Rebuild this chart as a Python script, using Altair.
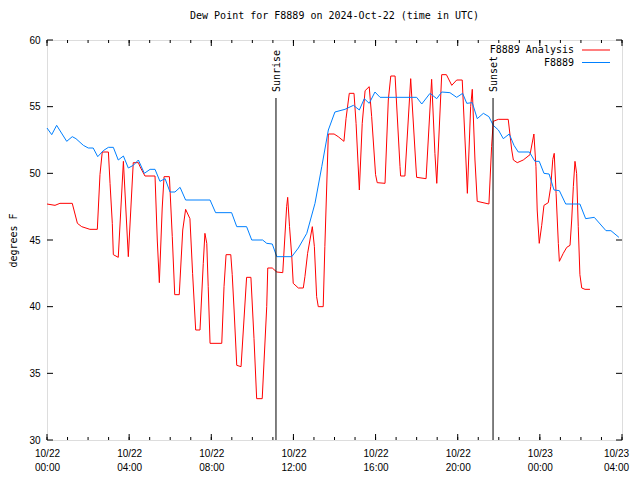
import altair as alt
import pandas as pd

# ---- data (hours since 2024-10-22 00:00 UTC) ----
obs_hours = [0.00, 0.23, 0.47, 0.96, 1.23, 1.41, 1.77, 2.01, 2.25, 2.47,
             2.74, 2.99, 3.23, 3.47, 3.72, 3.96, 4.20, 4.45, 4.74, 5.02,
             5.26, 5.50, 5.75, 5.99, 6.23, 6.48, 6.75, 7.94, 8.21, 8.99,
             9.24, 9.72, 9.97, 10.50, 10.70, 10.97, 11.19, 11.92, 12.24, 12.65,
             13.05, 13.38, 13.70, 14.02, 14.51, 14.92, 15.21, 15.45, 15.69, 15.97,
             16.22, 18.00, 18.25, 18.65, 18.98, 19.22, 19.62, 19.95, 20.24, 20.44,
             20.71, 20.95, 21.25, 21.52, 21.73, 21.98, 22.22, 22.51, 22.74, 22.95,
             23.49, 23.76, 23.97, 24.20, 24.45, 24.69, 24.95, 25.26, 25.95, 26.23,
             26.65, 27.22, 27.46, 27.85]
obs_values = [53.4, 52.9, 53.6, 52.4, 52.75, 52.6, 52.1, 51.9, 51.9, 51.25,
              51.7, 51.95, 51.95, 51.0, 51.3, 50.4, 50.6, 51.0, 50.0, 50.3,
              50.3, 49.4, 49.6, 48.6, 48.6, 48.95, 48.0, 48.0, 47.05, 47.05,
              46.0, 46.0, 45.0, 45.0, 44.75, 44.7, 43.75, 43.75, 44.4, 45.5,
              47.75, 50.5, 53.25, 54.6, 54.8, 55.1, 54.75, 55.6, 55.25, 56.1,
              55.7, 55.7, 55.2, 56.0, 55.6, 56.1, 56.05, 55.7, 56.0, 55.25,
              55.3, 54.1, 54.5, 54.25, 53.6, 53.25, 52.6, 52.95, 52.1, 51.6,
              51.6, 50.9, 50.9, 50.0, 49.95, 48.75, 48.7, 47.7, 47.7, 46.6,
              46.7, 45.7, 45.7, 45.2]

ana_hours = [0.00, 0.39, 0.63, 1.23, 1.48, 1.69, 2.09, 2.45, 2.58, 2.69,
             2.99, 3.07, 3.18, 3.23, 3.47, 3.72, 3.96, 4.20, 4.45, 4.53,
             4.77, 5.26, 5.37, 5.47, 5.61, 5.70, 5.96, 6.10, 6.22, 6.44,
             6.61, 6.75, 6.96, 7.09, 7.24, 7.45, 7.61, 7.69, 7.78, 7.85,
             7.94, 8.51, 8.62, 8.72, 8.95, 9.02, 9.11, 9.24, 9.45, 9.72,
             9.93, 10.08, 10.21, 10.48, 10.70, 10.75, 10.97, 11.19, 11.48, 11.67,
             11.72, 11.81, 11.92, 11.99, 12.24, 12.48, 12.56, 12.69, 12.92, 13.02,
             13.13, 13.21, 13.45, 13.53, 13.70, 13.98, 14.18, 14.46, 14.56, 14.72,
             14.95, 15.05, 15.21, 15.35, 15.49, 15.69, 15.81, 16.00, 16.08, 16.46,
             16.62, 16.74, 16.95, 17.19, 17.22, 17.43, 17.71, 17.97, 18.00, 18.46,
             18.73, 18.89, 18.98, 19.22, 19.45, 19.71, 19.95, 20.22, 20.40, 20.47,
             20.63, 20.71, 20.84, 20.95, 21.52, 21.65, 21.73, 21.98, 22.46, 22.63,
             22.71, 22.90, 23.19, 23.52, 23.71, 23.81, 23.87, 23.97, 24.09, 24.20,
             24.41, 24.53, 24.63, 24.70, 24.79, 24.90, 24.95, 25.14, 25.31, 25.47,
             25.55, 25.63, 25.71, 25.79, 25.87, 25.95, 26.04, 26.20, 26.44]
ana_values = [47.7, 47.6, 47.75, 47.75, 46.25, 46.0, 45.8, 45.8, 49.9, 51.6,
              51.6, 49.25, 46.25, 43.9, 43.7, 50.9, 43.75, 50.8, 50.8, 50.5,
              49.8, 49.8, 45.0, 41.8, 47.4, 49.75, 49.75, 45.25, 40.9, 40.9,
              45.75, 47.3, 46.6, 42.5, 38.25, 38.25, 43.25, 45.5, 44.75, 41.5,
              37.25, 37.25, 41.5, 43.9, 43.9, 42.4, 39.75, 35.6, 35.5, 42.2,
              42.2, 37.6, 33.1, 33.1, 40.0, 42.9, 42.9, 42.6, 42.55, 47.5,
              48.2, 46.0, 43.75, 41.75, 41.4, 41.4, 42.25, 44.0, 46.0, 44.5,
              40.75, 40.0, 40.0, 44.5, 52.95, 52.95, 52.75, 52.4, 54.1, 56.0,
              56.0, 53.75, 48.75, 53.75, 56.2, 56.5, 54.25, 49.9, 49.3, 49.25,
              55.5, 57.3, 57.3, 50.5, 49.8, 49.8, 57.1, 50.4, 49.7, 49.6,
              57.05, 51.5, 49.25, 57.4, 57.4, 56.6, 57.0, 57.0, 51.0, 48.5,
              55.0, 56.3, 51.0, 47.9, 47.7, 52.0, 53.9, 54.05, 54.05, 51.75,
              51.0, 50.8, 51.0, 51.4, 52.95, 50.5, 47.25, 44.75, 46.1, 47.6,
              47.8, 49.0, 51.05, 51.5, 48.5, 44.75, 43.4, 44.0, 44.45, 44.6,
              46.5, 49.0, 50.9, 50.0, 46.0, 42.4, 41.4, 41.3, 41.3]

series_names = ["F8889 Analysis", "F8889"]
series_colors = ["#ff0000", "#0080ff"]
event_names = ["Sunrise", "Sunset"]
event_hours = [11.15, 21.72]
major_hours = [0, 4, 8, 12, 16, 20, 24, 28]
minor_hours = list(range(0, 29))
y_ticks = [30, 35, 40, 45, 50, 55, 60]
title_text = "Dew Point for F8889 on 2024-Oct-22 (time in UTC)"

assert len(obs_hours) == len(obs_values)
assert len(ana_hours) == len(ana_values)

FONT = "DejaVu Sans Mono"
W, H = 575, 400

lines_df = pd.concat([
    pd.DataFrame({"hour": ana_hours, "value": ana_values, "series": series_names[0]}),
    pd.DataFrame({"hour": obs_hours, "value": obs_values, "series": series_names[1]}),
])

xscale = alt.Scale(domain=[0, 28], nice=False)
yscale = alt.Scale(domain=[30, 60], nice=False, zero=False)

label_expr = ("[datum.value < 24 ? '10/22' : '10/23', "
              "(datum.value % 24 < 10 ? '0' : '') + (datum.value % 24) + ':00']")

x_axis = alt.Axis(values=major_hours, labelExpr=label_expr, title=None, grid=False,
                  domain=False, ticks=False,
                  labelOffset={"condition": {"test": "datum.value == 28", "value": -6}, "value": 0},
                  labelPadding=8, labelBaseline="top", labelLineHeight=14,
                  labelFlush=False, labelOverlap=False, labelBound=False)
y_axis = alt.Axis(values=y_ticks, title="degrees F", labelPadding=7, grid=False,
                  domain=False, ticks=False,
                  titleX=-34, titleY=200, titleAngle=270, titleAlign="center",
                  titleBaseline="middle", titleFont=FONT, titleFontSize=10,
                  titleFontWeight="normal", titleColor="black")

X = alt.X("hour:Q", scale=xscale, axis=x_axis, title=None)
Y = alt.Y("value:Q", scale=yscale, axis=y_axis, title="degrees F")

lines = alt.Chart(lines_df).mark_line(strokeWidth=1, interpolate="linear").encode(
    x=X, y=Y,
    color=alt.Color("series:N", scale=alt.Scale(domain=series_names, range=series_colors),
                    legend=None),
    detail="series:N",
    order=alt.Order("hour:Q"),
)

major_df = pd.DataFrame({"hour": major_hours})
minor_df = pd.DataFrame({"hour": minor_hours})
ytick_df = pd.DataFrame({"value": y_ticks})

ticks = [
    alt.Chart(major_df).mark_rule(color="black").encode(x=X, y=alt.value(0), y2=alt.value(6)),
    alt.Chart(major_df).mark_rule(color="black").encode(x=X, y=alt.value(H - 6), y2=alt.value(H)),
    alt.Chart(minor_df).mark_rule(color="black").encode(x=X, y=alt.value(0), y2=alt.value(3)),
    alt.Chart(minor_df).mark_rule(color="black").encode(x=X, y=alt.value(H - 3), y2=alt.value(H)),
    alt.Chart(ytick_df).mark_rule(color="black").encode(y=Y, x=alt.value(0), x2=alt.value(6)),
    alt.Chart(ytick_df).mark_rule(color="black").encode(y=Y, x=alt.value(W - 6), x2=alt.value(W)),
]

events_df = pd.DataFrame({"name": event_names, "hour": event_hours})
event_rules = alt.Chart(events_df).mark_rule(color="black", strokeWidth=1).encode(
    x=X, y=alt.value(58), y2=alt.value(H))
event_text = alt.Chart(events_df).mark_text(
    angle=270, align="left", baseline="middle", font=FONT, fontSize=10, color="black", dy=1
).encode(x=X, y=alt.value(52), text="name:N")

legend_layers = []
for i, (name, col) in enumerate(zip(series_names, series_colors)):
    ldf = pd.DataFrame({"name": [name]})
    ypos = 10 + 12.5 * i
    legend_layers.append(
        alt.Chart(ldf).mark_text(align="right", baseline="middle", font=FONT,
                                 fontSize=10, color="black").encode(
            x=alt.value(527), y=alt.value(ypos), text="name:N"))
    legend_layers.append(
        alt.Chart(ldf).mark_rule(color=col, strokeWidth=1).encode(
            x=alt.value(535), x2=alt.value(563), y=alt.value(ypos)))

chart = alt.layer(lines, *ticks, event_rules, event_text, *legend_layers).properties(
    width=W, height=H,
    title=alt.TitleParams(title_text, font=FONT, fontSize=10, fontWeight="normal",
                          anchor="middle", offset=14, color="black"),
    autosize=alt.AutoSizeParams(type="none"),
    padding={"left": 39, "top": 32, "right": 10, "bottom": 40},
).configure_view(
    stroke="black", strokeWidth=1
).configure_axis(
    grid=False, domain=False, ticks=False, labelFont=FONT, labelFontSize=10,
    labelColor="black"
).configure(background="white")

chart.save("out.html", embed_options={"renderer": "svg", "actions": False})
